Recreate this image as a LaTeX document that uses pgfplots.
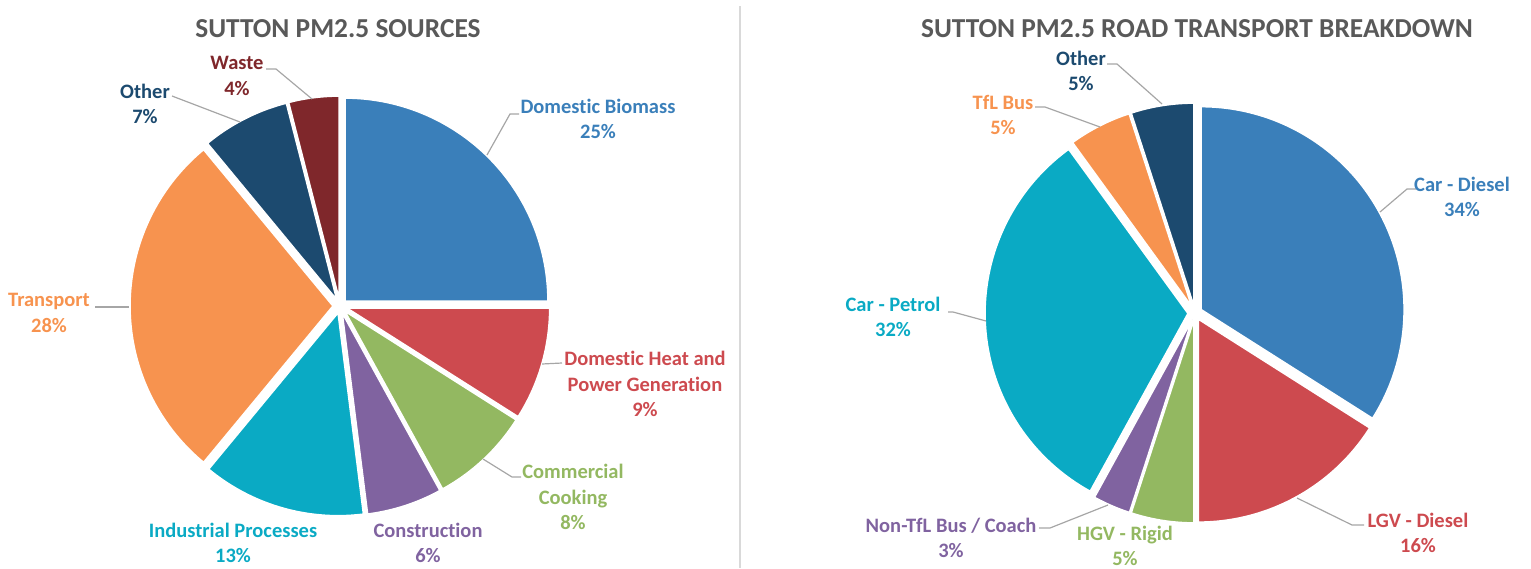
\documentclass[border=0pt]{standalone}
\usepackage{fontspec}
\setmainfont{Carlito}[Ligatures={NoCommon}]
\usepackage{pgfplots}
\pgfplotsset{compat=1.18}
\definecolor{cBlue}{HTML}{3A7FBA}
\definecolor{cRed}{HTML}{CD4A4F}
\definecolor{cGreen}{HTML}{93B861}
\definecolor{cPurple}{HTML}{8063A0}
\definecolor{cCyan}{HTML}{0AAAC4}
\definecolor{cOrange}{HTML}{F7934F}
\definecolor{cNavy}{HTML}{1C4A6F}
\definecolor{cDarkRed}{HTML}{7F272B}
\definecolor{cTitle}{HTML}{595959}
\definecolor{cLeader}{HTML}{A6A6A6}
\definecolor{cDivider}{HTML}{D9D9D9}

% one pie slice: #1 colour, #2 percentage (uses \cx,\cy,\R,\ex and running \cum)
\newcommand\pieslice[2]{%
  \pgfmathsetmacro\sa{90-3.6*\cum}%
  \pgfmathsetmacro\ea{90-3.6*(\cum+#2)}%
  \pgfmathsetmacro\ma{(\sa+\ea)/2}%
  \pgfmathsetmacro\ox{\cx+\ex*cos(\ma)}%
  \pgfmathsetmacro\oy{\cy-\ex*sin(\ma)}%
  \edef\doslice{\noexpand\addplot[fill=#1, draw=white, line width=0.8pt, domain=\ea:\sa, samples=90]
     ({\ox+\R*cos(x)},{\oy-\R*sin(x)}) -- (axis cs:\ox,\oy) -- cycle;}%
  \doslice
  \pgfmathsetmacro\newcum{\cum+#2}%
  \global\let\cum\newcum
}

\tikzset{lab/.style={font=\bfseries\fontsize{10.25}{12.75}\selectfont, align=center, inner sep=0pt},
         ttl/.style={font=\bfseries\fontsize{13.7}{16}\selectfont, text=cTitle, inner sep=0pt},
         lead/.style={cLeader, line width=0.6pt}}

\begin{document}
\begin{tikzpicture}
\begin{axis}[hide axis, scale only axis, width=765.5pt, height=284pt,
  xmin=0, xmax=1531, ymin=0, ymax=568, y dir=reverse, clip=false]

% divider
\addplot[cDivider, line width=0.8pt] coordinates {(740,6) (740,568)};

% ---------- left pie ----------
\def\cx{340}\def\cy{306}\def\R{203}\def\ex{7}\gdef\cum{0}
\pieslice{cBlue}{25}
\pieslice{cRed}{9}
\pieslice{cGreen}{8}
\pieslice{cPurple}{6}
\pieslice{cCyan}{13}
\pieslice{cOrange}{28}
\pieslice{cNavy}{7}
\pieslice{cDarkRed}{4}

\addplot[lead] coordinates {(519,114) (510,114) (487,155)};
\addplot[lead] coordinates {(562,363) (542,364)};
\addplot[lead] coordinates {(521,477) (512,477) (483,459)};
\addplot[lead] coordinates {(95,307) (129,307)};
\addplot[lead] coordinates {(172,96) (240,122)};
\addplot[lead] coordinates {(266,69) (276,69) (312,99)};

\node[ttl] at (axis cs:338,29) {SUTTON PM2.5 SOURCES};
\node[lab, text=cBlue] at (axis cs:598,119) {Domestic Biomass\\25\%};
\node[lab, text=cRed] at (axis cs:645,384) {Domestic Heat and\\Power Generation\\9\%};
\node[lab, text=cGreen] at (axis cs:573,497) {Commercial\\Cooking\\8\%};
\node[lab, text=cCyan] at (axis cs:233,543) {Industrial Processes\\13\%};
\node[lab, text=cPurple] at (axis cs:428,543) {Construction\\6\%};
\node[lab, text=cOrange] at (axis cs:49,313) {Transport\\28\%};
\node[lab, text=cNavy] at (axis cs:145,104) {Other\\7\%};
\node[lab, text=cDarkRed] at (axis cs:237,76) {Waste\\4\%};

% ---------- right pie ----------
\def\cx{1195}\def\cy{313}\def\R{203}\def\ex{7}\gdef\cum{0}
\pieslice{cBlue}{34}
\pieslice{cRed}{16}
\pieslice{cGreen}{5}
\pieslice{cPurple}{3}
\pieslice{cCyan}{32}
\pieslice{cOrange}{5}
\pieslice{cNavy}{5}

\addplot[lead] coordinates {(1107,64) (1117,64) (1162,104)};
\addplot[lead] coordinates {(1035,107) (1045,107) (1100,127)};
\addplot[lead] coordinates {(948,312) (953,312) (986,321)};
\addplot[lead] coordinates {(1039,528) (1050,528) (1108,505)};
\addplot[lead] coordinates {(1364,525) (1352,525) (1297,498)};
\addplot[lead] coordinates {(1416,189) (1407,189) (1380,212)};

\node[ttl] at (axis cs:1197,29) {SUTTON PM2.5 ROAD TRANSPORT BREAKDOWN};
\node[lab, text=cNavy] at (axis cs:1081,71) {Other\\5\%};
\node[lab, text=cOrange] at (axis cs:1003,115) {TfL Bus\\5\%};
\node[lab, text=cCyan] at (axis cs:893,317) {Car - Petrol\\32\%};
\node[lab, text=cPurple] at (axis cs:951,538) {Non-TfL Bus / Coach\\3\%};
\node[lab, text=cGreen] at (axis cs:1125,546) {HGV - Rigid\\5\%};
\node[lab, text=cRed] at (axis cs:1418,533) {LGV - Diesel\\16\%};
\node[lab, text=cBlue] at (axis cs:1462,197) {Car - Diesel\\34\%};
\end{axis}
\path (current axis.south west) rectangle (current axis.north east);
\end{tikzpicture}
\end{document}
